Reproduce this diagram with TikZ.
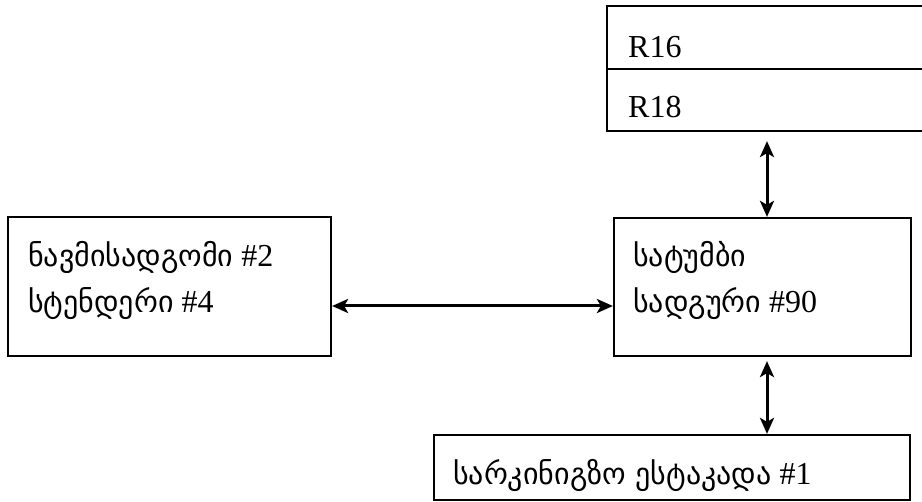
\documentclass[tikz,border=0pt]{standalone}
\usepackage{fontspec}
\setmainfont{Liberation Serif}
\newfontfamily\geo{DejaVu Sans}
\usetikzlibrary{arrows.meta}
\tikzset{
  box/.style={draw, line width=2.2pt, rectangle, inner sep=0pt},
  lbl/.style={anchor=base west, inner sep=0pt, font=\fontsize{32}{38}\selectfont},
  conn/.style={line width=3pt, {Stealth[length=16pt,width=14pt,inset=4pt]}-{Stealth[length=16pt,width=14pt,inset=4pt]}},
}
\newcommand{\ka}[1]{{\geo\fontsize{30}{36}\selectfont #1}}
\begin{document}
\begin{tikzpicture}[x=1pt,y=-1pt]
\useasboundingbox (0,0) rectangle (922,502);
% boxes
\node[box, minimum width=323pt, minimum height=139pt] (left) at (169.5,286.5) {};
\node[box, minimum width=297pt, minimum height=138pt] (right) at (762.5,287) {};
\node[box, minimum width=326pt, minimum height=63pt] (r16) at (770,37.5) {};
\node[box, minimum width=326pt, minimum height=62pt] (r18) at (770,100) {};
\node[box, minimum width=476pt, minimum height=65pt] (bot) at (672,467.5) {};
% texts
\node[lbl] (l1) at (28,267) {\ka{ნავმისადგომი} \#2};
\node[lbl] (l2) at (28,313) {\ka{სტენდერი} \#4};
\node[lbl] (rt1) at (633,267) {\ka{სატუმბი}};
\node[lbl] (rt2) at (633,313) {\ka{სადგური} \#90};
\node[lbl] (t16) at (628,58) {R16};
\node[lbl] (t18) at (628,118) {R18};
\node[lbl] (b1) at (453,485) {\ka{სარკინიგზო ესტაკადა} \#1};
% connectors
\coordinate (hy) at (0,306);
\coordinate (vx) at (767,0);
\draw[conn] (left.east |- hy) -- (right.west |- hy);
\draw[conn, shorten <=9pt] (r18.south -| vx) -- (right.north -| vx);
\draw[conn, shorten <=4pt] (right.south -| vx) -- (bot.north -| vx);
\end{tikzpicture}
\end{document}
